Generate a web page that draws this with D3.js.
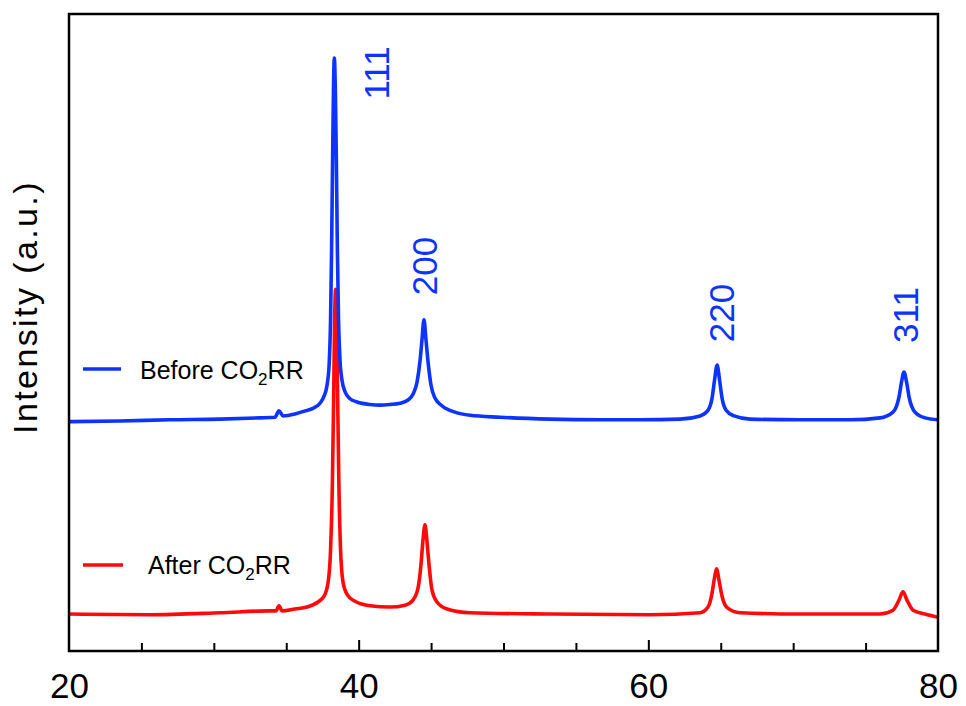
<!DOCTYPE html>
<html>
<head>
<meta charset="utf-8">
<script src="https://cdn.jsdelivr.net/npm/d3@7"></script>
<style>
    body { margin: 0; background: #fff; }
    svg { display: block; font-family: "Liberation Sans", Arial, Helvetica, sans-serif; }
</style>
</head>
<body>
<svg width="966" height="706"></svg>
<script>

// XRD patterns: [2theta, intensity (a.u.)], stacked as plotted
var beforePattern = [
    [20.0, 360], [23.52, 361], [26.97, 363], [30.43, 364], [33.19, 366], [34.22, 367],
    [34.50, 377], [34.78, 369], [35.60, 372], [36.30, 377], [36.85, 381], [37.33, 389],
    [37.61, 400], [37.82, 418], [37.96, 449], [38.06, 520], [38.13, 630], [38.20, 771],
    [38.26, 881], [38.32, 931], [38.39, 881], [38.46, 771], [38.53, 630], [38.61, 520],
    [38.71, 457], [38.85, 425], [39.06, 407], [39.40, 396], [39.89, 391], [40.78, 387],
    [41.47, 386], [42.16, 387], [42.85, 389], [43.41, 394], [43.75, 403], [44.03, 422],
    [44.23, 454], [44.37, 488], [44.51, 520], [44.65, 488], [44.79, 454], [44.99, 418],
    [45.27, 397], [45.75, 385], [46.65, 375], [47.69, 370], [49.76, 367], [53.21, 364],
    [56.66, 363], [59.43, 363], [62.19, 364], [63.57, 369], [64.12, 378], [64.40, 397],
    [64.57, 425], [64.75, 449], [64.92, 425], [65.09, 397], [65.37, 378], [65.92, 369],
    [67.02, 364], [70.47, 363], [73.93, 363], [76.00, 366], [76.89, 375], [77.31, 399],
    [77.48, 422], [77.65, 438], [77.83, 422], [78.00, 399], [78.41, 375], [79.10, 366],
    [80.0, 363]
];

var afterPattern = [
    [20.0, 58], [25.59, 57], [30.43, 60], [33.88, 63], [34.29, 63], [34.50, 71],
    [34.71, 63], [35.60, 66], [36.43, 69], [37.19, 77], [37.61, 86], [37.89, 108],
    [38.06, 159], [38.19, 268], [38.27, 394], [38.34, 520], [38.41, 568], [38.48, 520],
    [38.55, 394], [38.63, 268], [38.75, 159], [38.92, 108], [39.20, 89], [39.75, 78],
    [40.78, 71], [42.16, 69], [43.20, 72], [43.75, 80], [44.10, 99], [44.30, 135],
    [44.44, 174], [44.58, 198], [44.72, 171], [44.86, 135], [45.06, 96], [45.41, 77],
    [46.10, 66], [47.69, 60], [53.21, 58], [60.12, 57], [63.57, 60], [64.12, 69],
    [64.40, 91], [64.57, 115], [64.71, 129], [64.88, 111], [65.09, 86], [65.44, 68],
    [66.33, 60], [70.47, 58], [76.00, 58], [76.89, 64], [77.31, 80], [77.58, 93],
    [77.86, 80], [78.28, 64], [79.10, 58], [80.0, 53]
];

var xTickLabels = [20, 40, 60, 80];
var xMinorTicks = [25, 30, 35, 45, 50, 55, 65, 70, 75];
var xMajorTicks = [40, 60];

// hkl reflections: label, 2theta where the label sits
var peakLabels = [
    { label: "111", at: 42.1 },
    { label: "200", at: 45.4 },
    { label: "220", at: 65.9 },
    { label: "311", at: 78.6 }
];

var seriesNames = ["Before CO", "After CO"];

//setup the SVG canvas
var svg = d3.select("svg"),
    margin = { left: 69, right: 28, top: 14, bottom: 55 },
    width = +svg.attr("width"),
    height = +svg.attr("height"),
    plotW = width - margin.left - margin.right,
    plotH = height - margin.top - margin.bottom;

var blue = "#0d33ff",
    red = "#ff0a0a";

var x = d3.scaleLinear().domain([20, 80]).range([margin.left, margin.left + plotW]);
var y = d3.scaleLinear().domain([0, 1000]).range([margin.top + plotH, margin.top]);

svg.append("clipPath")
    .attr("id", "plotClip")
    .append("rect")
    .attr("x", margin.left)
    .attr("y", margin.top)
    .attr("width", plotW)
    .attr("height", plotH);

var line = d3.line()
    .x(function (d) { return x(d[0]); })
    .y(function (d) { return y(d[1]); })
    .curve(d3.curveMonotoneX);

var plot = svg.append("g").attr("clip-path", "url(#plotClip)");

plot.append("path")
    .datum(afterPattern)
    .attr("d", line)
    .attr("fill", "none")
    .attr("stroke", red)
    .attr("stroke-width", 3.6)
    .attr("stroke-linejoin", "round");

plot.append("path")
    .datum(beforePattern)
    .attr("d", line)
    .attr("fill", "none")
    .attr("stroke", blue)
    .attr("stroke-width", 3.6)
    .attr("stroke-linejoin", "round");

// frame round the plot
svg.append("rect")
    .attr("x", margin.left)
    .attr("y", margin.top)
    .attr("width", plotW)
    .attr("height", plotH)
    .attr("fill", "none")
    .attr("stroke", "#000")
    .attr("stroke-width", 2.5);

// bottom axis, ticks point inward
var xAxisMinor = d3.axisBottom(x).tickValues(xMinorTicks).tickSize(-8).tickFormat("");
var xAxisMajor = d3.axisBottom(x).tickValues(xMajorTicks).tickSize(-11).tickFormat("");

[xAxisMinor, xAxisMajor].forEach(function (ax) {
    var g = svg.append("g")
        .attr("transform", "translate(0," + (margin.top + plotH) + ")")
        .call(ax);
    g.select(".domain").remove();
    g.selectAll("line").attr("stroke", "#000").attr("stroke-width", 2);
});

var xAxisLabels = svg.append("g")
    .attr("transform", "translate(0," + (margin.top + plotH) + ")")
    .call(d3.axisBottom(x).tickValues(xTickLabels).tickSize(0).tickPadding(0));
xAxisLabels.select(".domain").remove();
xAxisLabels.selectAll("text")
    .attr("y", 0)
    .attr("dy", 0)
    .attr("transform", "translate(0,47)")
    .style("font-family", "\"Liberation Sans\", Arial, sans-serif")
    .style("font-size", "35px")
    .attr("fill", "#000");

// y axis title
svg.append("text")
    .attr("transform", "translate(37,307) rotate(-90)")
    .attr("text-anchor", "middle")
    .style("font-size", "34px")
    .style("letter-spacing", "2.4px")
    .text("Intensity (a.u.)");

// reflection labels
var peakY = [73, 266, 313, 315];
svg.selectAll(".peakLabel")
    .data(peakLabels)
    .enter().append("text")
    .attr("class", "peakLabel")
    .attr("transform", function (d, i) { return "translate(" + x(d.at) + "," + peakY[i] + ") rotate(-90)"; })
    .attr("text-anchor", "middle")
    .attr("fill", blue)
    .style("font-size", "35px")
    .text(function (d) { return d.label; });

// legend
var legendRows = [
    { name: seriesNames[0], colour: blue, ly: 369, x1: 83, x2: 121, tx: 140, ty: 379 },
    { name: seriesNames[1], colour: red, ly: 565, x1: 83, x2: 123, tx: 148, ty: 574 }
];

var legend = svg.append("g").attr("class", "legend");

legendRows.forEach(function (r) {
    legend.append("line")
        .attr("x1", r.x1).attr("x2", r.x2)
        .attr("y1", r.ly).attr("y2", r.ly)
        .attr("stroke", r.colour)
        .attr("stroke-width", 3.5);

    var t = legend.append("text")
        .attr("x", r.tx)
        .attr("y", r.ty)
        .style("font-size", "25px")
        .attr("fill", "#000");
    t.append("tspan").text(r.name);
    t.append("tspan").attr("dy", 6).style("font-size", "17px").text("2");
    t.append("tspan").attr("dy", -6).text("RR");
});

</script>
</body>
</html>
